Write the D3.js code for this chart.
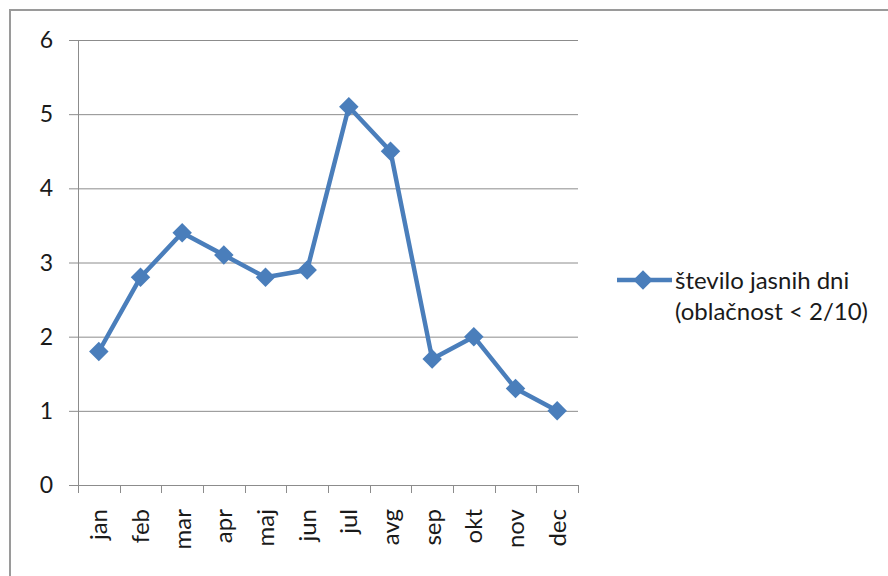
<!DOCTYPE html>
<html>
<head>
<meta charset="utf-8">
<script src="https://cdn.jsdelivr.net/npm/d3@7"></script>
<style>
  body { margin: 0; background: #fff; }
  svg { display: block; font-family: Lato, "Open Sans", "DejaVu Sans", sans-serif; }
</style>
</head>
<body>
<svg id="chart" width="888" height="576"></svg>
<script>
// Monthly count of clear days (cloudiness < 2/10)
const months = ["jan", "feb", "mar", "apr", "maj", "jun", "jul", "avg", "sep", "okt", "nov", "dec"];
const clearDays = [1.8, 2.8, 3.4, 3.1, 2.8, 2.9, 5.1, 4.5, 1.7, 2.0, 1.3, 1.0];
const yTicks = [0, 1, 2, 3, 4, 5, 6];
const seriesName = ["število jasnih dni", "(oblačnost < 2/10)"];

const svg = d3.select("#chart");
const blue = "#4a7ebb";
const gridColor = "#8c8c8c";
const textColor = "#1a1a1a";

// outer frame
svg.append("rect")
  .attr("x", 10).attr("y", 10)
  .attr("width", 900).attr("height", 600)
  .attr("fill", "#fff")
  .attr("stroke", "#9a9a9a").attr("stroke-width", 2);

const plot = { left: 78, right: 578, top: 40, bottom: 485 };

const x = d3.scaleBand().domain(months).range([plot.left, plot.right]);
const y = d3.scaleLinear().domain([0, 6]).range([plot.bottom, plot.top]);

// horizontal gridlines with short left ticks
svg.append("g").selectAll("line").data(yTicks).join("line")
  .attr("x1", plot.left - 9).attr("x2", plot.right)
  .attr("y1", d => y(d) + 0.5).attr("y2", d => y(d) + 0.5)
  .attr("stroke", gridColor).attr("stroke-width", 1);

// y-axis line
svg.append("line")
  .attr("x1", plot.left + 0.5).attr("x2", plot.left + 0.5)
  .attr("y1", plot.top).attr("y2", plot.bottom + 8)
  .attr("stroke", gridColor).attr("stroke-width", 1);

// y tick labels
svg.append("g").selectAll("text").data(yTicks).join("text")
  .attr("x", 53).attr("y", d => y(d))
  .attr("dy", "0.35em")
  .attr("text-anchor", "end")
  .attr("font-size", 23)
  .attr("fill", textColor)
  .text(d => d);

// x category ticks (at category boundaries)
const boundaries = months.map(m => x(m)).concat([plot.right]);
svg.append("g").selectAll("line").data(boundaries).join("line")
  .attr("x1", d => Math.round(d) + 0.5).attr("x2", d => Math.round(d) + 0.5)
  .attr("y1", plot.bottom).attr("y2", plot.bottom + 8)
  .attr("stroke", gridColor).attr("stroke-width", 1);

// rotated month labels
svg.append("g").selectAll("text").data(months).join("text")
  .attr("transform", d => `translate(${x(d) + x.bandwidth() / 2},509) rotate(-90)`)
  .attr("dy", "0.35em")
  .attr("text-anchor", "end")
  .attr("font-size", 24)
  .attr("fill", textColor)
  .text(d => d);

// data line
const line = d3.line()
  .x((d, i) => x(months[i]) + x.bandwidth() / 2)
  .y(d => y(d));

svg.append("path")
  .datum(clearDays)
  .attr("d", line)
  .attr("fill", "none")
  .attr("stroke", blue)
  .attr("stroke-width", 4.5)
  .attr("stroke-linejoin", "round");

// diamond markers
const marker = d3.symbol().type(d3.symbolSquare).size(190);
svg.append("g").selectAll("path").data(clearDays).join("path")
  .attr("d", marker)
  .attr("transform", (d, i) => `translate(${x(months[i]) + x.bandwidth() / 2},${y(d)}) rotate(45)`)
  .attr("fill", blue);

// legend
const legend = svg.append("g");
legend.append("line")
  .attr("x1", 617).attr("x2", 672)
  .attr("y1", 280).attr("y2", 280)
  .attr("stroke", blue).attr("stroke-width", 4.5);
legend.append("path")
  .attr("d", marker)
  .attr("transform", "translate(643,280) rotate(45)")
  .attr("fill", blue);
legend.append("g").selectAll("text").data(seriesName).join("text")
  .attr("x", 675)
  .attr("y", (d, i) => 281 + i * 31)
  .attr("dy", "0.35em")
  .attr("font-size", 24)
  .attr("fill", textColor)
  .text(d => d);
</script>
</body>
</html>
